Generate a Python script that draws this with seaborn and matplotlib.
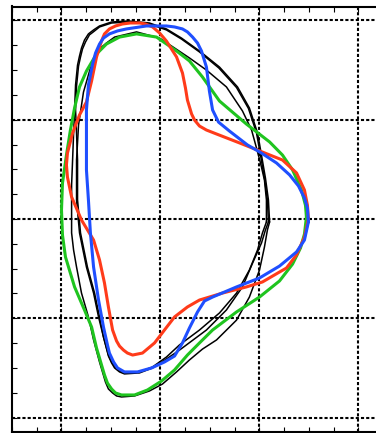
import numpy as np
import pandas as pd
import seaborn as sns
import matplotlib
matplotlib.use("Agg")
import matplotlib.pyplot as plt
from matplotlib.ticker import MultipleLocator, NullFormatter

# boundary shapes (R, Z)
red_r = [1.747, 1.742, 1.727, 1.687, 1.616, 1.515, 1.399, 1.283, 1.232, 1.197, 1.172, 1.157, 1.136,
         1.126, 1.111, 1.081, 1.030, 0.995, 0.960, 0.924, 0.894, 0.848, 0.808, 0.773, 0.742, 0.717,
         0.702, 0.677, 0.652, 0.626, 0.591, 0.556, 0.530, 0.525, 0.530, 0.551, 0.601, 0.662, 0.692,
         0.717, 0.737, 0.758, 0.778, 0.793, 0.813, 0.833, 0.859, 0.909, 0.970, 1.020, 1.071, 1.136,
         1.197, 1.313, 1.434, 1.515, 1.601, 1.636, 1.687, 1.727]
red_z = [0.000, 0.070, 0.146, 0.232, 0.297, 0.337, 0.383, 0.428, 0.448, 0.468, 0.498, 0.529, 0.599,
         0.660, 0.735, 0.816, 0.896, 0.937, 0.967, 0.982, 0.987, 0.987, 0.982, 0.972, 0.957, 0.932,
         0.896, 0.816, 0.695, 0.589, 0.524, 0.433, 0.332, 0.272, 0.211, 0.111, -0.005, -0.106, -0.206,
         -0.322, -0.443, -0.559, -0.614, -0.640, -0.660, -0.675, -0.685, -0.675, -0.624, -0.559, -0.493, -0.443,
         -0.408, -0.373, -0.342, -0.317, -0.267, -0.247, -0.181, -0.091]

blue_r = [1.747, 1.742, 1.727, 1.697, 1.652, 1.586, 1.510, 1.439, 1.348, 1.293, 1.263, 1.247, 1.232,
          1.207, 1.187, 1.162, 1.136, 1.111, 1.071, 1.030, 0.929, 0.828, 0.783, 0.742, 0.712, 0.692,
          0.672, 0.657, 0.636, 0.626, 0.626, 0.626, 0.636, 0.646, 0.662, 0.687, 0.712, 0.732, 0.742,
          0.763, 0.783, 0.818, 0.884, 0.955, 1.020, 1.071, 1.111, 1.146, 1.187, 1.222, 1.263, 1.384,
          1.500, 1.601, 1.687, 1.727]
blue_z = [-0.015, 0.055, 0.106, 0.166, 0.222, 0.282, 0.332, 0.373, 0.443, 0.488, 0.549, 0.644, 0.765,
          0.846, 0.886, 0.916, 0.942, 0.957, 0.967, 0.972, 0.972, 0.957, 0.947, 0.932, 0.911, 0.881,
          0.836, 0.780, 0.675, 0.549, 0.398, 0.247, 0.096, -0.070, -0.242, -0.408, -0.544, -0.634, -0.675,
          -0.720, -0.750, -0.770, -0.770, -0.750, -0.720, -0.690, -0.624, -0.549, -0.468, -0.413, -0.393, -0.342,
          -0.297, -0.237, -0.166, -0.106]

green_r = [1.737, 1.732, 1.712, 1.667, 1.616, 1.551, 1.434, 1.298, 1.212, 1.146, 1.081, 0.980, 0.879,
           0.793, 0.727, 0.677, 0.626, 0.591, 0.566, 0.545, 0.525, 0.505, 0.500, 0.505, 0.520, 0.566,
           0.616, 0.652, 0.677, 0.717, 0.732, 0.753, 0.773, 0.803, 0.869, 0.934, 1.005, 1.071, 1.136,
           1.197, 1.263, 1.384, 1.500, 1.601, 1.667, 1.707, 1.727]
green_z = [0.010, 0.070, 0.146, 0.247, 0.322, 0.388, 0.478, 0.594, 0.715, 0.796, 0.846, 0.916, 0.932,
           0.916, 0.881, 0.831, 0.745, 0.665, 0.559, 0.448, 0.322, 0.181, 0.045, -0.081, -0.191, -0.342,
           -0.458, -0.544, -0.650, -0.785, -0.826, -0.856, -0.876, -0.886, -0.886, -0.861, -0.816, -0.760, -0.685,
           -0.624, -0.559, -0.468, -0.393, -0.312, -0.227, -0.146, -0.076]

black1_r = [1.551, 1.545, 1.530, 1.510, 1.490, 1.449, 1.389, 1.298, 1.197, 1.106, 1.030, 0.944, 0.838,
            0.753, 0.692, 0.662, 0.636, 0.616, 0.601, 0.591, 0.581, 0.571, 0.566, 0.561, 0.556, 0.551,
            0.551, 0.551, 0.561, 0.576, 0.601, 0.636, 0.662, 0.692, 0.722, 0.737, 0.758, 0.778, 0.803,
            0.869, 0.944, 1.010, 1.081, 1.146, 1.212, 1.283, 1.384, 1.449, 1.500, 1.525, 1.540]
black1_z = [-0.015, 0.096, 0.206, 0.322, 0.433, 0.559, 0.665, 0.765, 0.846, 0.911, 0.957, 0.987, 0.997,
            0.992, 0.972, 0.952, 0.932, 0.901, 0.861, 0.821, 0.775, 0.675, 0.549, 0.428, 0.297, 0.171,
            0.045, -0.070, -0.156, -0.242, -0.373, -0.493, -0.609, -0.720, -0.821, -0.856, -0.876, -0.891, -0.896,
            -0.891, -0.866, -0.831, -0.770, -0.710, -0.655, -0.609, -0.509, -0.393, -0.257, -0.141, -0.055]

black2_r = [1.535, 1.535, 1.525, 1.505, 1.485, 1.460, 1.414, 1.333, 1.232, 1.146, 1.071, 0.995, 0.879,
            0.768, 0.727, 0.697, 0.667, 0.646, 0.611, 0.586, 0.576, 0.576, 0.591, 0.626, 0.662, 0.687,
            0.712, 0.737, 0.753, 0.773, 0.793, 0.823, 0.894, 0.960, 1.030, 1.096, 1.197, 1.298, 1.384,
            1.449, 1.490, 1.515]
black2_z = [-0.015, 0.096, 0.196, 0.282, 0.357, 0.448, 0.544, 0.665, 0.750, 0.811, 0.861, 0.911, 0.942,
            0.916, 0.886, 0.861, 0.816, 0.760, 0.639, 0.473, 0.297, 0.096, -0.070, -0.242, -0.373, -0.493,
            -0.594, -0.685, -0.720, -0.745, -0.765, -0.775, -0.770, -0.745, -0.695, -0.634, -0.559, -0.473, -0.373,
            -0.257, -0.156, -0.070]

black3_r = [1.545, 1.540, 1.525, 1.505, 1.485, 1.444, 1.384, 1.295, 1.197, 1.106, 1.030, 0.944, 0.838,
            0.753, 0.692, 0.667, 0.641, 0.621, 0.606, 0.596, 0.586, 0.576, 0.571, 0.576, 0.581, 0.581,
            0.596, 0.631, 0.667, 0.692, 0.712, 0.737, 0.753, 0.768, 0.793, 0.818, 0.894, 0.960, 1.030,
            1.096, 1.232, 1.333, 1.414, 1.465, 1.510, 1.530]
black3_z = [-0.015, 0.096, 0.206, 0.322, 0.433, 0.557, 0.662, 0.760, 0.841, 0.906, 0.952, 0.982, 0.992,
            0.987, 0.967, 0.947, 0.927, 0.891, 0.856, 0.816, 0.770, 0.670, 0.549, 0.428, 0.297, 0.096,
            -0.070, -0.242, -0.373, -0.493, -0.594, -0.690, -0.725, -0.750, -0.770, -0.780, -0.775, -0.750, -0.705,
            -0.660, -0.559, -0.458, -0.342, -0.222, -0.121, -0.055]

sns.set_style("ticks")
plt.rcParams['font.family'] = ['DejaVu Sans']

fig = plt.figure(figsize=(3.76, 4.33), dpi=100)
ax = fig.add_axes([12 / 376, 1.5 / 433, 396 / 376, 425 / 433])


def closed(r, z):
    return pd.DataFrame({"R": r + r[:1], "Z": z + z[:1]})


for r, z in [(black1_r, black1_z), (black2_r, black2_z), (black3_r, black3_z)]:
    sns.lineplot(data=closed(r, z), x="R", y="Z", sort=False, estimator=None,
                 color="black", lw=1.1, solid_joinstyle="round", ax=ax)

for r, z, c in [(green_r, green_z, "#1fc41f"), (red_r, red_z, "#ff3b1a"), (blue_r, blue_z, "#1f4fff")]:
    sns.lineplot(data=closed(r, z), x="R", y="Z", sort=False, estimator=None,
                 color=c, lw=2.2, solid_joinstyle="round", ax=ax)

ax.set_xlim(0.25, 2.25)
ax.set_ylim(-1.07, 1.07)
ax.xaxis.set_major_locator(MultipleLocator(0.5))
ax.yaxis.set_major_locator(MultipleLocator(0.5))
ax.xaxis.set_minor_locator(MultipleLocator(0.125))
ax.yaxis.set_minor_locator(MultipleLocator(0.125))
ax.xaxis.set_major_formatter(NullFormatter())
ax.yaxis.set_major_formatter(NullFormatter())
ax.tick_params(which="both", direction="in", length=3.6, width=0.8, color="black",
               top=True, right=True, bottom=True, left=True)
ax.grid(True, which="major", color="black", linestyle=(0, (1.5, 1.0)), linewidth=1.5)
for s in ax.spines.values():
    s.set_linewidth(1.5)
    s.set_color("black")
ax.set_xlabel("")
ax.set_ylabel("")

fig.savefig("out.png", dpi=100)
